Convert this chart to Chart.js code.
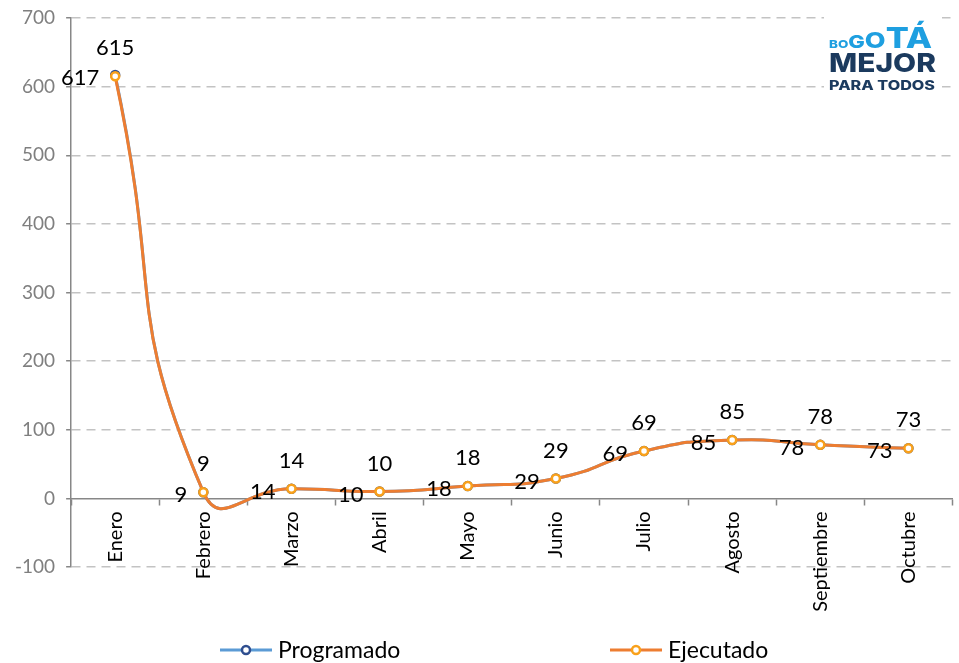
<!DOCTYPE html>
<html>
<head>
<meta charset="utf-8">
<script src="https://cdn.jsdelivr.net/npm/chart.js@4.4.1/dist/chart.umd.min.js"></script>
<style>
  html, body { margin: 0; padding: 0; background: #fff; }
  #wrap { width: 959px; height: 663px; }
</style>
</head>
<body>
<div id="wrap"><canvas id="chart" width="959" height="663"></canvas></div>
<script>
// data
const months = ['Enero', 'Febrero', 'Marzo', 'Abril', 'Mayo', 'Junio', 'Julio', 'Agosto', 'Septiembre', 'Octubre'];
const programado = [617, 9, 14, 10, 18, 29, 69, 85, 78, 73];
const ejecutado = [615, 9, 14, 10, 18, 29, 69, 85, 78, 73];
const yMin = -100, yMax = 700, yStep = 100;

const FONT = 'Lato, "Open Sans", sans-serif';
const BLUE_LINE = '#5B9BD5', BLUE_DOT = '#2F4E8F';
const ORANGE_LINE = '#ED7D31', ORANGE_DOT = '#F9A11B';

// number labels: programado to the left of the point, ejecutado above it
const valueLabels = {
    id: 'valueLabels',
    afterDatasetsDraw(chart) {
        const ctx = chart.ctx;
        ctx.save();
        ctx.font = '22px ' + FONT;
        ctx.fillStyle = '#000';
        ctx.textBaseline = 'middle';
        ctx.textAlign = 'right';
        chart.getDatasetMeta(0).data.forEach((pt, i) => {
            ctx.fillText(String(programado[i]), pt.x - 16, pt.y + 3);
        });
        ctx.textAlign = 'center';
        chart.getDatasetMeta(1).data.forEach((pt, i) => {
            ctx.fillText(String(ejecutado[i]), pt.x, pt.y - 28);
        });
        ctx.restore();
    }
};

// legend drawn by hand because of the wide gap between the two items
const bottomLegend = {
    id: 'bottomLegend',
    afterDraw(chart) {
        const ctx = chart.ctx;
        const y = 650;
        const items = [
            { text: 'Programado', x: 220, line: BLUE_LINE, dot: BLUE_DOT },
            { text: 'Ejecutado', x: 610, line: ORANGE_LINE, dot: ORANGE_DOT }
        ];
        ctx.save();
        items.forEach(it => {
            ctx.strokeStyle = it.line;
            ctx.lineWidth = 3;
            ctx.beginPath();
            ctx.moveTo(it.x, y);
            ctx.lineTo(it.x + 52, y);
            ctx.stroke();
            ctx.beginPath();
            ctx.arc(it.x + 26, y, 4, 0, Math.PI * 2);
            ctx.fillStyle = '#fff';
            ctx.fill();
            ctx.lineWidth = 2.5;
            ctx.strokeStyle = it.dot;
            ctx.stroke();
            ctx.fillStyle = '#000';
            ctx.font = '23px ' + FONT;
            ctx.textAlign = 'left';
            ctx.textBaseline = 'middle';
            ctx.fillText(it.text, it.x + 58, y + 1);
        });
        ctx.restore();
    }
};

// draw text squeezed/stretched horizontally to a given width
function fitText(ctx, text, font, x, y, width) {
    ctx.font = font;
    const w = ctx.measureText(text).width;
    ctx.save();
    ctx.translate(x, y);
    ctx.scale(width / w, 1);
    ctx.fillText(text, 0, 0);
    ctx.restore();
}

// "Bogotá mejor para todos" mark, top right
const logo = {
    id: 'logo',
    afterDraw(chart) {
        const ctx = chart.ctx;
        ctx.save();
        ctx.fillStyle = '#fff';
        ctx.fillRect(824, 8, 118, 90);
        ctx.textBaseline = 'alphabetic';
        ctx.textAlign = 'left';
        ctx.fillStyle = '#1E9FE0';
        const parts = [['BO', 11], ['G', 18], ['O', 22], ['TÁ', 28]];
        let total = 0;
        parts.forEach(p => { ctx.font = '800 ' + p[1] + 'px Inter, sans-serif'; total += ctx.measureText(p[0]).width; });
        const sx = 103 / total;
        ctx.save();
        ctx.translate(829, 48);
        ctx.scale(sx, 1);
        let x = 0;
        parts.forEach(p => {
            ctx.font = '800 ' + p[1] + 'px Inter, sans-serif';
            ctx.fillText(p[0], x, 0);
            x += ctx.measureText(p[0]).width;
        });
        ctx.restore();
        ctx.fillStyle = '#1B3A5E';
        fitText(ctx, 'MEJOR', '800 26px Inter, sans-serif', 829, 72, 107);
        fitText(ctx, 'PARA TODOS', '800 13px Inter, sans-serif', 829, 90, 106);
        ctx.restore();
    }
};

new Chart(document.getElementById('chart'), {
    type: 'line',
    data: {
        labels: months,
        datasets: [
            {
                label: 'Programado',
                data: programado,
                order: 1,
                borderColor: BLUE_LINE,
                borderWidth: 3,
                pointRadius: 4,
                pointBorderWidth: 2.5,
                pointBorderColor: BLUE_DOT,
                pointBackgroundColor: '#fff',
                tension: 0.55
            },
            {
                label: 'Ejecutado',
                data: ejecutado,
                order: 0,
                borderColor: ORANGE_LINE,
                borderWidth: 3,
                pointRadius: 4,
                pointBorderWidth: 2.5,
                pointBorderColor: ORANGE_DOT,
                pointBackgroundColor: '#fff',
                tension: 0.55
            }
        ]
    },
    options: {
        responsive: false,
        animation: false,
        layout: { padding: { top: 0, right: 0, bottom: 96, left: 4 } },
        plugins: {
            legend: { display: false },
            tooltip: { enabled: false }
        },
        scales: {
            x: {
                position: { y: 0 },
                offset: true,
                grid: {
                    offset: true,
                    drawOnChartArea: false,
                    drawTicks: true,
                    tickLength: 6,
                    tickColor: '#878787',
                    tickWidth: 1.5
                },
                border: { color: '#878787', width: 1.5 },
                ticks: {
                    minRotation: 90,
                    maxRotation: 90,
                    padding: 7,
                    color: '#000',
                    font: { family: FONT, size: 20 }
                }
            },
            y: {
                min: yMin,
                max: yMax,
                // keep the top gridline close to the canvas edge
                afterFit: scale => { scale.paddingTop = 18; },
                grid: {
                    color: ctx => (ctx.tick && ctx.tick.value === 0) ? 'rgba(0,0,0,0)' : '#C3C3C3',
                    lineWidth: 1.5,
                    tickLength: 5,
                    tickColor: '#878787',
                    tickWidth: 1.5
                },
                border: { color: '#878787', width: 1.5, dash: [9, 6] },
                ticks: {
                    stepSize: yStep,
                    padding: 11,
                    color: '#7F7F7F',
                    font: { family: FONT, size: 19 }
                }
            }
        }
    },
    plugins: [valueLabels, bottomLegend, logo]
});
</script>
</body>
</html>
